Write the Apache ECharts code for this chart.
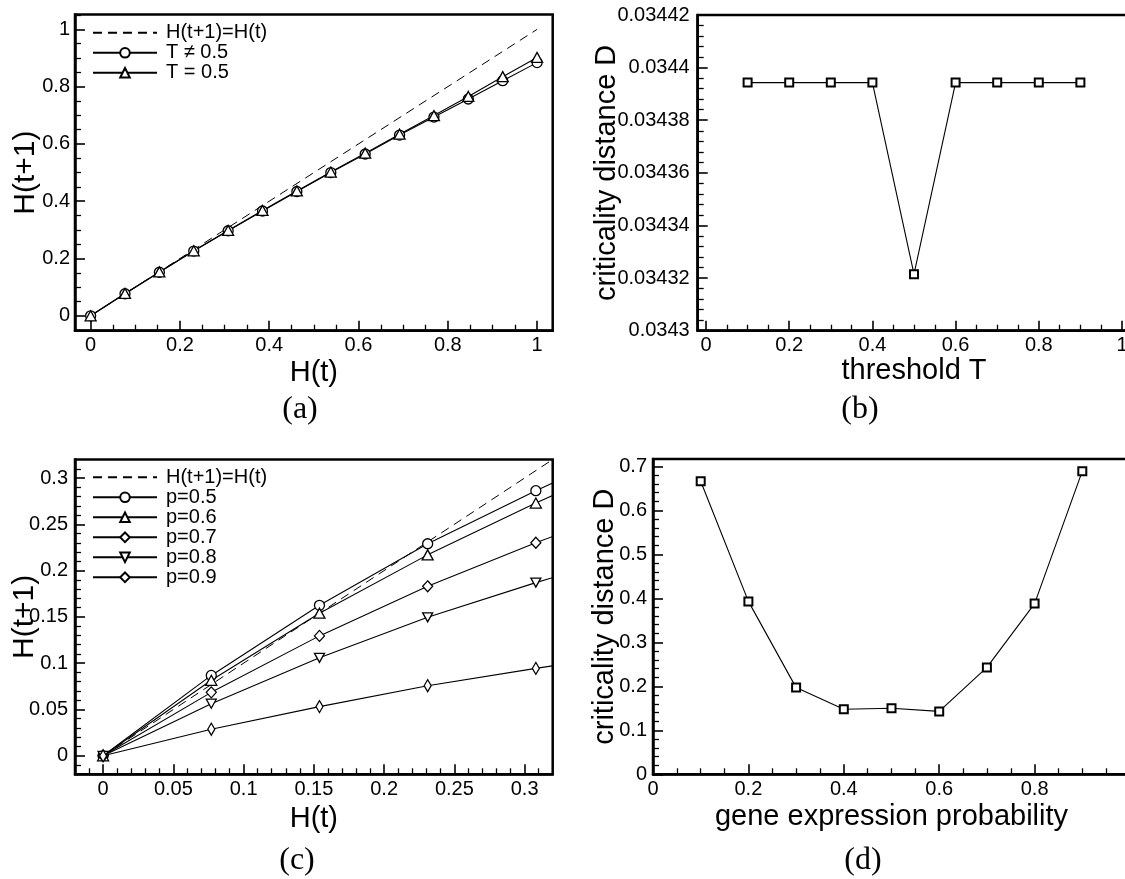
<!DOCTYPE html>
<html><head><meta charset="utf-8">
<script src="https://cdn.jsdelivr.net/npm/echarts@6/dist/echarts.min.js"></script>
<style>html,body{margin:0;padding:0;background:#fff}#c{width:1125px;height:879px}</style>
</head><body><div id="c"></div>
<script>
// ---------- data ----------
const identityLine = [0, 1];
// panel (a)
const aX   = [0, 0.077, 0.154, 0.231, 0.308, 0.385, 0.462, 0.538, 0.615, 0.692, 0.769, 0.846, 0.923, 1.0];
const aTne = [0, 0.077, 0.152, 0.226, 0.297, 0.366, 0.434, 0.500, 0.565, 0.631, 0.694, 0.757, 0.821, 0.884];
const aTeq = [0, 0.078, 0.153, 0.227, 0.298, 0.368, 0.436, 0.502, 0.568, 0.634, 0.699, 0.766, 0.835, 0.902];
// panel (b)
const bT = [0.1, 0.2, 0.3, 0.4, 0.5, 0.6, 0.7, 0.8, 0.9];
const bD = [0.0343943, 0.0343943, 0.0343943, 0.0343943, 0.0343215, 0.0343943, 0.0343943, 0.0343943, 0.0343943];
// panel (c)
const cX    = [0, 0.077, 0.154, 0.231, 0.308, 0.385];
const cP05  = [0, 0.0868, 0.1625, 0.2290, 0.2863, 0.340];
const cP06  = [0, 0.0815, 0.1540, 0.2170, 0.2730, 0.325];
const cP07  = [0, 0.0685, 0.1295, 0.1830, 0.2300, 0.274];
const cP08  = [0, 0.0563, 0.1058, 0.1496, 0.1870, 0.222];
const cP09  = [0, 0.0287, 0.0531, 0.0757, 0.0944, 0.112];
// panel (d)
const dP = [0.1, 0.2, 0.3, 0.4, 0.5, 0.6, 0.7, 0.8, 0.9];
const dD = [0.666, 0.393, 0.197, 0.148, 0.150, 0.143, 0.243, 0.388, 0.689];

// tick labels
const aXTicks = [0, 0.2, 0.4, 0.6, 0.8, 1];
const aYTicks = [0, 0.2, 0.4, 0.6, 0.8, 1];
const bXTicks = [0, 0.2, 0.4, 0.6, 0.8, 1];
const bYTicks = [0.0343, 0.03432, 0.03434, 0.03436, 0.03438, 0.0344, 0.03442];
const cXTicks = [0, 0.05, 0.1, 0.15, 0.2, 0.25, 0.3];
const cYTicks = [0, 0.05, 0.1, 0.15, 0.2, 0.25, 0.3];
const dXTicks = [0, 0.2, 0.4, 0.6, 0.8];
const dYTicks = [0, 0.1, 0.2, 0.3, 0.4, 0.5, 0.6, 0.7];

const legendA = ['H(t+1)=H(t)', 'T \u2260 0.5', 'T = 0.5'];
const legendC = ['H(t+1)=H(t)', 'p=0.5', 'p=0.6', 'p=0.7', 'p=0.8', 'p=0.9'];

// ---------- helpers ----------
const FONT = 'Liberation Sans';
const TICK = '#000';
const fmt = v => String(parseFloat(Number(v).toPrecision(6)));
function minors(majors, sub, min, max) {
  const step = (majors[1] - majors[0]) / sub;
  const out = [];
  const eps = step * 1e-3;
  for (let v = majors[0] - step; v > min + eps; v -= step) out.push(v);
  for (let v = majors[0] + step; v < max - eps; v += step) {
    if (!majors.some(m => Math.abs(m - v) < eps)) out.push(+v.toPrecision(10));
  }
  return out;
}
function pair(xs, ys) { return xs.map((x, i) => [x, ys[i]]); }

function mainAxis(gi, min, max, ticks, name, nameGap, margin) {
  return {
    type: 'value', gridIndex: gi, min: min, max: max,
    name: name, nameLocation: 'middle', nameGap: nameGap, nameMoveOverlap: false,
    nameTextStyle: { fontFamily: FONT, fontSize: 29, color: '#000' },
    axisLine: { show: true, onZero: false, lineStyle: { color: '#000', width: 2.5 } },
    axisTick: { show: true, inside: true, length: 10, customValues: ticks, lineStyle: { color: TICK, width: 1.6 } },
    axisLabel: { show: true, customValues: ticks, margin: margin, fontFamily: FONT, fontSize: 20, color: '#000', formatter: fmt },
    splitLine: { show: false }
  };
}
function minorAxis(gi, min, max, ticks) {
  return {
    type: 'value', gridIndex: gi, min: min, max: max,
    axisLine: { show: false, onZero: false },
    axisTick: { show: true, inside: true, length: 6, customValues: ticks, lineStyle: { color: TICK, width: 1.3 } },
    axisLabel: { show: false },
    splitLine: { show: false }
  };
}
function gridAt(l, t, w, h, show) {
  return { left: l, top: t, width: w, height: h, show: !!show, borderColor: '#000', borderWidth: show ? 2.5 : 0,
           outerBoundsMode: 'none' };
}

// ranges
const A = { x: [-0.035, 1.035], y: [-0.052, 1.052] };
const B = { x: [-0.02, 1.02], y: [0.0343, 0.03442] };
const C = { x: [-0.02, 0.32], y: [-0.02, 0.32] };
const D = { x: [0, 1.0], y: [0, 0.7166] };

const gA = [75, 14.5, 477.7, 316.2];
const gB = [697.7, 15, 432.6, 315.7];
const gC = [75, 459.5, 477.7, 314.8];
const gD = [653, 459, 477, 315.3];

const grids = [
  gridAt(...gA, true), gridAt(...gA, false),
  gridAt(...gB, true), gridAt(...gB, false),
  gridAt(...gC, true), gridAt(...gC, false),
  gridAt(...gD, true), gridAt(...gD, false)
];

const xAxes = [
  mainAxis(0, A.x[0], A.x[1], aXTicks, 'H(t)', 28, 5),
  minorAxis(1, A.x[0], A.x[1], minors(aXTicks, 4, A.x[0], A.x[1])),
  mainAxis(2, B.x[0], B.x[1], bXTicks, 'threshold T', 26, 5),
  minorAxis(3, B.x[0], B.x[1], minors(bXTicks, 4, B.x[0], B.x[1])),
  mainAxis(4, C.x[0], C.x[1], cXTicks, 'H(t)', 30, 5),
  minorAxis(5, C.x[0], C.x[1], minors(cXTicks, 5, C.x[0], C.x[1])),
  mainAxis(6, D.x[0], D.x[1], dXTicks, 'gene expression probability', 28, 5),
  minorAxis(7, D.x[0], D.x[1], minors(dXTicks, 4, D.x[0], D.x[1]))
];
const yAxes = [
  mainAxis(0, A.y[0], A.y[1], aYTicks, 'H(t+1)', 34, 5),
  minorAxis(1, A.y[0], A.y[1], minors(aYTicks, 4, A.y[0], A.y[1])),
  mainAxis(2, B.y[0], B.y[1], bYTicks, 'criticality distance D', 76, 8),
  minorAxis(3, B.y[0], B.y[1], minors(bYTicks, 5, B.y[0], B.y[1])),
  mainAxis(4, C.y[0], C.y[1], cYTicks, 'H(t+1)', 35, 7),
  minorAxis(5, C.y[0], C.y[1], minors(cYTicks, 5, C.y[0], C.y[1])),
  mainAxis(6, D.y[0], D.y[1], dYTicks, 'criticality distance D', 34, 6),
  minorAxis(7, D.y[0], D.y[1], minors(dYTicks, 5, D.y[0], D.y[1]))
];
yAxes[0].nameTextStyle.fontSize = 30;
yAxes[4].nameTextStyle.fontSize = 30;

const mk = { color: '#fff', borderColor: '#000', borderWidth: 1.3 };
const ln = { color: '#000', width: 1.1 };
function markSeries(name, xi, data, symbol, size, extra) {
  return Object.assign({
    type: 'line', name: name, xAxisIndex: xi, yAxisIndex: xi, data: data,
    symbol: symbol, symbolSize: size, showSymbol: true, clip: true,
    itemStyle: Object.assign({}, mk), lineStyle: Object.assign({}, ln),
    emphasis: { disabled: true }, animation: false, z: 3
  }, extra || {});
}
function dashSeries(xi) {
  return {
    type: 'line', name: 'H(t+1)=H(t)', xAxisIndex: xi, yAxisIndex: xi,
    data: identityLine.map(v => [v, v]), symbol: 'none', clip: true,
    itemStyle: { color: '#000' },
    lineStyle: { color: '#000', width: 1, type: [9, 6] },
    emphasis: { disabled: true }, animation: false, z: 2
  };
}
const downTri = 'path://M0,0 L10,0 L5,9 Z';
const thinDia = 'path://M3,0 L6,6 L3,12 L0,6 Z';

const series = [
  dashSeries(0),
  markSeries('T \u2260 0.5', 0, pair(aX, aTne), 'circle', 10),
  markSeries('T = 0.5', 0, pair(aX, aTeq), 'triangle', [11, 10]),
  markSeries('b', 2, pair(bT, bD), 'rect', 8, { itemStyle: { color: '#fff', borderColor: '#000', borderWidth: 2 } }),
  dashSeries(4),
  markSeries('p=0.5', 4, pair(cX, cP05), 'circle', 10),
  markSeries('p=0.6', 4, pair(cX, cP06), 'triangle', [11, 10]),
  markSeries('p=0.7', 4, pair(cX, cP07), 'diamond', [10, 11]),
  markSeries('p=0.8', 4, pair(cX, cP08), downTri, [10, 9]),
  markSeries('p=0.9', 4, pair(cX, cP09), thinDia, [7, 12], { symbolKeepAspect: false }),
  markSeries('d', 6, pair(dP, dD), 'rect', 8, { itemStyle: { color: '#fff', borderColor: '#000', borderWidth: 2 } })
];

function legendAt(top, names) {
  return {
    show: true, orient: 'vertical', left: 92, top: top, padding: 0,
    itemWidth: 64, itemHeight: 12, itemGap: 0, selectedMode: false,
    textStyle: { fontFamily: FONT, fontSize: 20, color: '#000', lineHeight: 20, padding: [0, 0, 0, 4] },
    data: names.map((n, i) => i === 0 ? { name: n, itemStyle: { opacity: 0 } } : n)
  };
}

const captions = [['(a)', 300, 410], ['(b)', 860, 410], ['(c)', 297, 861], ['(d)', 863, 861]];

const chart = echarts.init(document.getElementById('c'), null, { renderer: 'canvas' });
chart.setOption({
  animation: false,
  backgroundColor: '#fff',
  grid: grids,
  xAxis: xAxes,
  yAxis: yAxes,
  legend: [legendAt(22.8, legendA), legendAt(467.3, legendC)],
  series: series,
  graphic: captions.map(c => ({
    type: 'text', x: c[1], y: c[2], silent: true,
    style: { text: c[0], font: '32px "Liberation Serif"', fill: '#000', textAlign: 'center', textVerticalAlign: 'middle' }
  }))
});
</script></body></html>
